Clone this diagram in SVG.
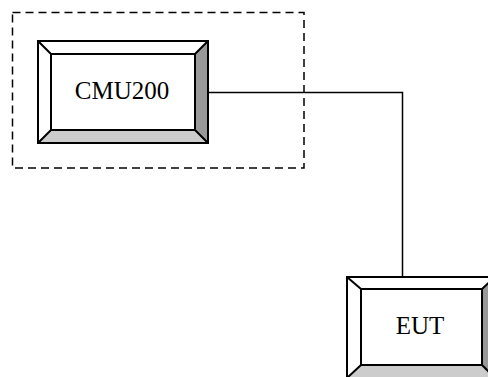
<svg xmlns="http://www.w3.org/2000/svg" width="488" height="377" viewBox="0 0 488 377">
<style>
.edge{stroke:#000;stroke-width:2;fill:none;stroke-linejoin:miter}
.conn{stroke:#000;stroke-width:1.5;fill:none}
.lt{fill:#fff}
.rt{fill:#999}
.bt{fill:#ccc}
.lbl{font-family:"Liberation Serif","Times New Roman",serif;font-size:25px;fill:#000;text-anchor:middle}
.dash{stroke:#000;stroke-width:1.5;fill:none;stroke-dasharray:8,5}
</style>
<rect width="488" height="377" fill="#fff"/>
<g id="group-box">
<rect class="dash" x="12.5" y="12.5" width="291.5" height="155.5"/>
</g>
<g id="connectors">
<polyline class="conn" points="208,92.5 402.5,92.5 402.5,277"/>
</g>
<g id="cmu200">
<polygon class="lt" points="38,41 208,41 195,54 51,54"/>
<polygon class="lt" points="38,41 51,54 51,130 38,143"/>
<polygon class="rt" points="208,41 208,143 195,130 195,54"/>
<polygon class="bt" points="38,143 51,130 195,130 208,143"/>
<rect class="edge" x="38" y="41" width="170" height="102"/>
<rect class="edge" x="51" y="54" width="144" height="76"/>
<path class="edge" d="M38,41L51,54M208,41L195,54M38,143L51,130M208,143L195,130"/>
<text class="lbl" x="122" y="99">CMU200</text>
</g>
<g id="eut">
<polygon class="lt" points="347,277 495,277 482,289 361,289"/>
<polygon class="lt" points="347,277 361,289 361,365 347,378"/>
<polygon class="rt" points="495,277 495,378 482,365 482,289"/>
<polygon class="bt" points="347,378 361,365 482,365 495,378"/>
<rect class="edge" x="347" y="277" width="148" height="101"/>
<rect class="edge" x="361" y="289" width="121" height="76"/>
<path class="edge" d="M347,277L361,289M495,277L482,289M347,378L361,365M495,378L482,365"/>
<text class="lbl" x="420" y="334">EUT</text>
</g>
</svg>
